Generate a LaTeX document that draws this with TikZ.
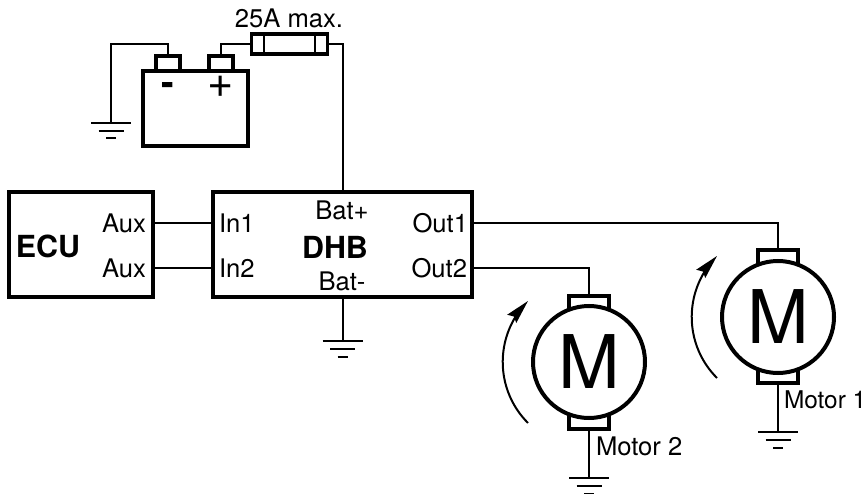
\documentclass[tikz,border=0pt]{standalone}
\usepackage{fontspec}
\setmainfont{TeX Gyre Heros}
\usetikzlibrary{arrows.meta, bending}

\tikzset{
  box/.style={draw, line width=4pt, rectangle, inner sep=0pt, outer sep=0pt},
  wire/.style={line width=2pt},
  lbl/.style={inner sep=0pt, outer sep=0pt, font=\fontsize{25.6}{30}\selectfont},
  title/.style={inner sep=0pt, outer sep=0pt, font=\fontsize{30.4}{34}\selectfont\bfseries},
  motor/.style={draw, line width=4pt, circle, fill=white, minimum size=112pt, inner sep=0pt, outer sep=0pt,
    font=\fontsize{74}{80}\selectfont},
  spin/.style={line width=2pt, -{Stealth[length=24pt, width=12pt, inset=3pt, flex=0.4]}},
  ground/.pic={
    \draw[wire] (-20,0) -- (20,0) (-12.5,8) -- (12.5,8) (-5,15.5) -- (5,15.5);
  }
}

\begin{document}
\begin{tikzpicture}[x=1pt, y=-1pt]
  \useasboundingbox (0,0) rectangle (867,494);

  % battery
  \node[box, minimum width=24pt, minimum height=16pt] (batn) at (168,64) {};
  \node[box, minimum width=24pt, minimum height=16pt] (batp) at (221,64) {};
  \node[box, fill=white, minimum width=105pt, minimum height=75pt] (bat) at (195,108.5) {};
  \node[inner sep=0pt, font=\fontsize{38}{42}\selectfont\bfseries] (minus) at (168,89) {-};
  \node[inner sep=0pt, font=\fontsize{45}{50}\selectfont] (plus) at (221,87) {+};

  % fuse
  \node[box, line width=3.5pt, minimum width=76pt, minimum height=20pt] (fuse) at (289.5,44) {};
  \draw[wire] (264,34) -- (264,54) (315,34) -- (315,54);
  \node[lbl] (fuselbl) at (289,18) {25A max.};

  % blocks
  \node[box, minimum width=144pt, minimum height=105pt] (ecu) at (81,244.5) {};
  \node[box, minimum width=259pt, minimum height=105pt] (dhb) at (342.5,244.5) {};
  \node[title] (ecutxt) at (48,246) {ECU};
  \node[title] (dhbtxt) at (335,247) {DHB};
  \node[lbl, anchor=east] (aux1) at (146,223) {Aux};
  \node[lbl, anchor=east] (aux2) at (146,268) {Aux};
  \node[lbl, anchor=west] (in1) at (219,223) {In1};
  \node[lbl, anchor=west] (in2) at (219,268) {In2};
  \node[lbl, anchor=east] (out1) at (468,223) {Out1};
  \node[lbl, anchor=east] (out2) at (467,268) {Out2};
  \node[lbl] (batplus) at (342,210) {Bat+};
  \node[lbl] (batminus) at (342,281) {Bat-};

  % motors
  \node[box, minimum width=40pt, minimum height=133pt] (m2case) at (589,362.5) {};
  \node[motor] (m2) at (589,362) {M};
  \node[lbl, anchor=west] (m2txt) at (596,446) {Motor 2};
  \node[box, minimum width=40pt, minimum height=133pt] (m1case) at (778,316.5) {};
  \node[motor] (m1) at (778,317) {M};
  \node[lbl, anchor=west, font=\fontsize{24.4}{30}\selectfont] (m1txt) at (784,400) {Motor 1};

  % grounds
  \coordinate (gndbat) at (111,123);
  \coordinate (gnddhb) at (342.5,341);
  \coordinate (gndm2) at (589,478);
  \coordinate (gndm1) at (778,432);
  \pic at (gndbat) {ground};
  \pic at (gnddhb) {ground};
  \pic at (gndm2) {ground};
  \pic at (gndm1) {ground};

  % wires
  \draw[wire] (batn.north) |- (gndbat |- 0,44) -- (gndbat);
  \draw[wire] (batp.north) |- (fuse.west);
  \draw[wire] (fuse.east) -| (dhb.north);
  \draw[wire] (ecu.east |- aux1) -- (dhb.west |- aux1);
  \draw[wire] (ecu.east |- aux2) -- (dhb.west |- aux2);
  \draw[wire] (dhb.east |- out1) -| (m1case.north);
  \draw[wire] (dhb.east |- out2) -| (m2case.north);
  \draw[wire] (dhb.south) -- (gnddhb);
  \draw[wire] (m2case.south) -- (gndm2);
  \draw[wire] (m1case.south) -- (gndm1);

  % direction of rotation
  \draw[spin] (528,423) arc[start angle=135, end angle=225, radius=86.3];
  \draw[spin] (717,378) arc[start angle=135, end angle=225, radius=86.3];
\end{tikzpicture}
\end{document}
